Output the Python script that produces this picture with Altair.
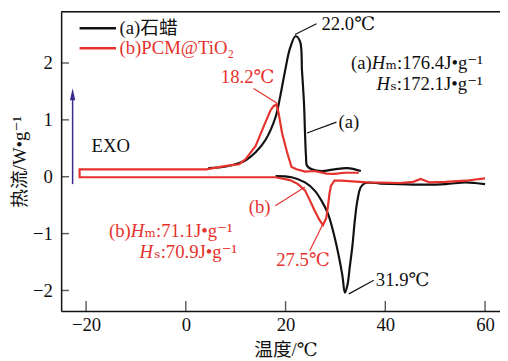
import altair as alt
import pandas as pd

# ---------------- data ----------------
# (a) paraffin, upper (exothermic) curve
a_up_x = [4.5, 8.1, 10.7, 12.0, 14.0, 16.0, 18.0, 18.9, 19.9, 20.9, 22.0, 22.9, 23.3, 23.7, 23.9, 24.1, 24.3, 25.3, 27.2, 29.8, 32.4, 35.1]
a_up_y = [0.15, 0.18, 0.24, 0.29, 0.43, 0.65, 1.05, 1.40, 1.86, 2.26, 2.47, 2.38, 1.86, 1.29, 0.77, 0.36, 0.19, 0.13, 0.10, 0.13, 0.15, 0.10]
# (a) paraffin, lower (endothermic) curve
a_dn_x = [18.0, 21.2, 23.9, 25.8, 27.2, 28.5, 29.8, 30.8, 31.4, 31.9, 32.4, 32.9, 33.4, 33.9, 34.4, 35.1, 36.0, 39.0, 43.0, 48.1, 52.1, 56.0, 58.0, 60.0]
a_dn_y = [0.01, -0.01, -0.10, -0.24, -0.42, -0.65, -1.05, -1.45, -1.74, -2.04, -1.91, -1.57, -1.22, -0.76, -0.42, -0.18, -0.11, -0.12, -0.13, -0.14, -0.13, -0.10, -0.11, -0.13]
# (b) PCM@TiO2, one continuous path (upper curve right->left, then lower curve left->right)
b_x = [34.7, 31.8, 29.8, 28.2, 25.8, 23.9, 22.2, 21.2, 20.3, 19.3, 18.6, 18.2, 17.6, 17.0, 15.6, 14.0, 12.0, 10.7, 8.1, 4.1, -21.3,
       -21.3, 18.0, 20.9, 22.5, 23.9, 24.9, 25.8, 26.8, 27.5, 28.15, 28.5, 28.8, 29.1, 29.8, 31.2, 36.3, 43.0, 45.6, 47.1, 48.9, 52.1, 56.0, 60.0]
b_y = [0.07, 0.07, 0.05, 0.055, 0.10, 0.09, 0.13, 0.17, 0.43, 0.77, 1.12, 1.27, 1.24, 1.17, 0.88, 0.54, 0.31, 0.22, 0.19, 0.13, 0.13,
       -0.01, -0.01, -0.06, -0.13, -0.24, -0.42, -0.59, -0.76, -0.85, -0.73, -0.52, -0.30, -0.16, -0.07, -0.07, -0.10, -0.11, -0.09, -0.04, -0.10, -0.09, -0.07, -0.03]

series_names = ["(a)石蜡", "(b)PCM@TiO₂"]
series_colors = ["#111111", "#e5322d"]

x_ticks = [-20, 0, 20, 40, 60]
y_ticks = [-2, -1, 0, 1, 2]

# legend rows (data coordinates)
leg_x0 = [-21.3, -21.3]
leg_x1 = [-14.0, -14.0]
leg_y = [2.61, 2.26]
leg_tx = [-13.3, -13.3]

BLK = "#111111"
RED = "#e5322d"

# annotations: text, x, y, align, colour, italic
ann_text = ["22.0℃", "18.2℃", "(a)", "(b)", "27.5℃", "31.9℃", "EXO",
            "(a)", "H", "ₘ:176.4J•g⁻¹", "H", "ₛ:172.1J•g⁻¹",
            "(b)", "H", "ₘ:71.1J•g⁻¹", "H", "ₛ:70.9J•g⁻¹"]
ann_x = [27.2, 12.4, 30.6, 14.8, 23.5, 38.1, -18.9,
         37.28, 37.28, 40.04, 38.26, 41.03,
         -11.05, -11.05, -8.28, -9.27, -6.31]
ann_y = [2.68, 1.76, 0.96, -0.53, -1.47, -1.82, 0.53,
         2.00, 2.00, 2.00, 1.63, 1.63,
         -0.95, -0.95, -0.95, -1.32, -1.32]
ann_align = ["left", "center", "left", "center", "center", "left", "left",
             "right", "left", "left", "left", "left",
             "right", "left", "left", "left", "left"]
ann_color = [BLK, RED, BLK, RED, RED, BLK, BLK,
             BLK, BLK, BLK, BLK, BLK,
             RED, RED, RED, RED, RED]
ann_italic = [False, False, False, False, False, False, False,
              False, True, False, True, False,
              False, True, False, True, False]

# leader lines
lead_x = [21.9, 13.6, 24.3, 17.95, 27.4, 32.7]
lead_y = [2.50, 1.55, 0.77, -0.51, -0.85, -2.06]
lead_x2 = [26.2, 18.3, 30.2, 23.9, 24.85, 37.7]
lead_y2 = [2.69, 1.29, 0.96, -0.18, -1.30, -1.82]
lead_color = [BLK, RED, BLK, RED, RED, BLK]

# EXO arrow
arrow_x = [-22.7]
arrow_y0 = [-0.13]
arrow_y1 = [1.45]

FONT = "Liberation Serif, DejaVu Serif, Noto Sans CJK SC"
FS = 19

# ---------------- build tables ----------------
a_df = pd.concat([
    pd.DataFrame({"x": a_up_x, "y": a_up_y, "seg": "a_up", "s": series_names[0]}),
    pd.DataFrame({"x": a_dn_x, "y": a_dn_y, "seg": "a_dn", "s": series_names[0]}),
], ignore_index=True)
a_df["o"] = range(len(a_df))
b_df = pd.DataFrame({"x": b_x, "y": b_y, "seg": "b", "s": series_names[1]})
b_df["o"] = range(len(b_df))

xs = alt.Scale(domain=[-25, 63], nice=False, zero=False)
ys = alt.Scale(domain=[-2.36, 2.90], nice=False, zero=False)
cs = alt.Scale(domain=series_names, range=series_colors)

xaxis = alt.Axis(values=x_ticks, format="d", title="温度/℃", grid=False, ticks=False, labelPadding=5,
                 labelFontSize=FS, titleFontSize=FS, labelFont=FONT, titleFont=FONT,
                 titleFontWeight="normal", labelColor=BLK, titleColor=BLK,
                 domainColor=BLK, domainWidth=1.5, titleX=228, titleY=39,
                 titleBaseline="middle", titleAlign="center")
yaxis = alt.Axis(values=y_ticks, format="d", title="热流/W•g⁻¹", grid=False, ticks=False, labelPadding=9,
                 labelFontSize=FS, titleFontSize=FS, labelFont=FONT, titleFont=FONT,
                 titleFontWeight="normal", labelColor=BLK, titleColor=BLK,
                 domainColor=BLK, domainWidth=1.5, titleX=-42, titleY=152,
                 titleBaseline="middle", titleAlign="center", titleAngle=270)

lines_a = alt.Chart(a_df).mark_line(strokeWidth=2.2, interpolate="catmull-rom").encode(
    x=alt.X("x:Q", scale=xs, axis=xaxis),
    y=alt.Y("y:Q", scale=ys, axis=yaxis),
    color=alt.Color("s:N", scale=cs, legend=None),
    detail="seg:N",
    order="o:Q",
)
lines_b = alt.Chart(b_df).mark_line(strokeWidth=2.2, interpolate="linear").encode(
    x=alt.X("x:Q", scale=xs),
    y=alt.Y("y:Q", scale=ys),
    color=alt.Color("s:N", scale=cs, legend=None),
    detail="seg:N",
    order="o:Q",
)

leg_df = pd.DataFrame({"x0": leg_x0, "x1": leg_x1, "y": leg_y, "tx": leg_tx,
                       "t": series_names, "c": series_colors})
leg_lines = alt.Chart(leg_df).mark_rule(strokeWidth=2.5).encode(
    x=alt.X("x0:Q", scale=xs), x2="x1:Q", y=alt.Y("y:Q", scale=ys),
    color=alt.Color("c:N", scale=None))
leg_text = alt.Chart(leg_df).mark_text(align="left", baseline="middle", font=FONT, fontSize=FS).encode(
    x=alt.X("tx:Q", scale=xs), y=alt.Y("y:Q", scale=ys), text="t:N",
    color=alt.Color("c:N", scale=None))

ann_df = pd.DataFrame({"x": ann_x, "y": ann_y, "t": ann_text, "a": ann_align,
                       "c": ann_color, "it": ann_italic})
ann_layers = []
for al in ["left", "center", "right"]:
    for it in [False, True]:
        sub = ann_df[(ann_df["a"] == al) & (ann_df["it"] == it)]
        if len(sub) == 0:
            continue
        ann_layers.append(
            alt.Chart(sub).mark_text(align=al, baseline="middle", font=FONT, fontSize=FS,
                                     fontStyle="italic" if it else "normal").encode(
                x=alt.X("x:Q", scale=xs), y=alt.Y("y:Q", scale=ys), text="t:N",
                color=alt.Color("c:N", scale=None)))

lead_df = pd.DataFrame({"x": lead_x, "y": lead_y, "x2": lead_x2, "y2": lead_y2, "c": lead_color})
leaders = alt.Chart(lead_df).mark_rule(strokeWidth=1.2).encode(
    x=alt.X("x:Q", scale=xs), y=alt.Y("y:Q", scale=ys), x2="x2:Q", y2="y2:Q",
    color=alt.Color("c:N", scale=None))

arr_df = pd.DataFrame({"x": arrow_x, "y0": arrow_y0, "y1": arrow_y1})
arrow_line = alt.Chart(arr_df).mark_rule(strokeWidth=1.5, color="#3a2a8c").encode(
    x=alt.X("x:Q", scale=xs), y=alt.Y("y0:Q", scale=ys), y2="y1:Q")
arrow_head = alt.Chart(arr_df).mark_point(shape="M0,-1L0.45,1L-0.45,1Z", size=144, filled=True,
                                          color="#3a2a8c", opacity=1).encode(
    x=alt.X("x:Q", scale=xs), y=alt.Y("y1:Q", scale=ys))

# inward ticks and top frame line
xt_df = pd.DataFrame({"v": x_ticks})
yt_df = pd.DataFrame({"v": y_ticks})
x_tick_marks = alt.Chart(xt_df).mark_tick(orient="vertical", size=10, thickness=1.4, color=BLK).encode(
    x=alt.X("v:Q", scale=xs), y=alt.value(299))
y_tick_marks = alt.Chart(yt_df).mark_tick(orient="horizontal", size=8, thickness=1.4, color=BLK).encode(
    y=alt.Y("v:Q", scale=ys), x=alt.value(4))
top_line = alt.Chart(pd.DataFrame({"k": [0]})).mark_rule(strokeWidth=1.5, color=BLK).encode(
    x=alt.value(0), x2=alt.value(446), y=alt.value(0))

chart = alt.layer(
    lines_a, lines_b, leg_lines, leg_text, leaders, *ann_layers, arrow_line, arrow_head,
    x_tick_marks, y_tick_marks, top_line,
).properties(
    width=446, height=304,
    autosize=alt.AutoSizeParams(type="none"),
    padding={"left": 54, "top": 1, "right": 0, "bottom": 47},
).configure_view(stroke=None).configure(background="white")

chart.save("out.html", embed_options={"renderer": "svg", "actions": False})
